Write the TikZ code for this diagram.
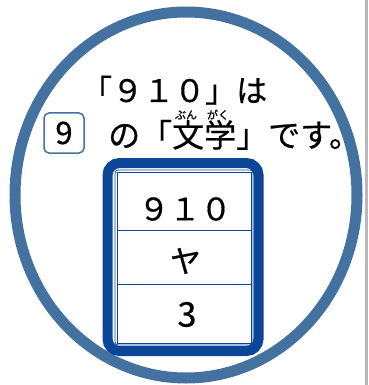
\documentclass[tikz,border=0pt]{standalone}
\usepackage{fontspec}
\setmainfont{Noto Sans CJK JP}[FakeBold=0.6]
\usepackage{tikz}

\definecolor{ringblue}{RGB}{68,114,160}
\definecolor{cardblue}{RGB}{12,70,152}

\begin{document}
\begin{tikzpicture}[x=1pt, y=-1pt,
	big/.style={inner sep=0pt, font=\fontsize{31}{31}\selectfont},
	ruby/.style={anchor=base, inner sep=0pt, font=\fontsize{11}{11}\selectfont}]
	\useasboundingbox (0,0) rectangle (368,385);
	\fill[gray!55] (365,0) rectangle (368,385);

	\draw[ringblue, line width=11pt] (186,195) ellipse [x radius=171, y radius=183];

	\node[big, anchor=base west] (line1) at ( 81,102) {「９１０」は};
	\node[draw=ringblue, line width=1.5pt, rounded corners=5pt, minimum width=40pt, minimum height=40pt, inner sep=0pt, font=\fontsize{31}{31}\selectfont] (num) at ( 64,133) {9};
	\node[big, anchor=base west, font=\fontsize{32}{32}\selectfont] (line2) at (108,147) {の「文学」です。};
	\node[ruby] (rubyA) at (186,119) {ぶん};
	\node[ruby] (rubyB) at (218,119) {がく};

	\draw[cardblue, line width=10pt, rounded corners=12pt] (107.5,163) rectangle (258.5,351);
	\draw[cardblue, line width=0.8pt, rounded corners=3pt] (115,170) rectangle (253,345);
	\draw[cardblue, line width=0.8pt] (117.5,172.5) rectangle (251,343);
	\draw[cardblue, line width=1pt] (117.5,230) -- (251,230);
	\draw[cardblue, line width=1pt] (117.5,284) -- (251,284);

	\node[big] (class)  at (185,209) {９１０};
	\node[big] (author) at (185.5,261) {ヤ};
	\node[big, font=\fontsize{34}{34}\selectfont] (volume) at (187,314.5) {3};
\end{tikzpicture}
\end{document}
